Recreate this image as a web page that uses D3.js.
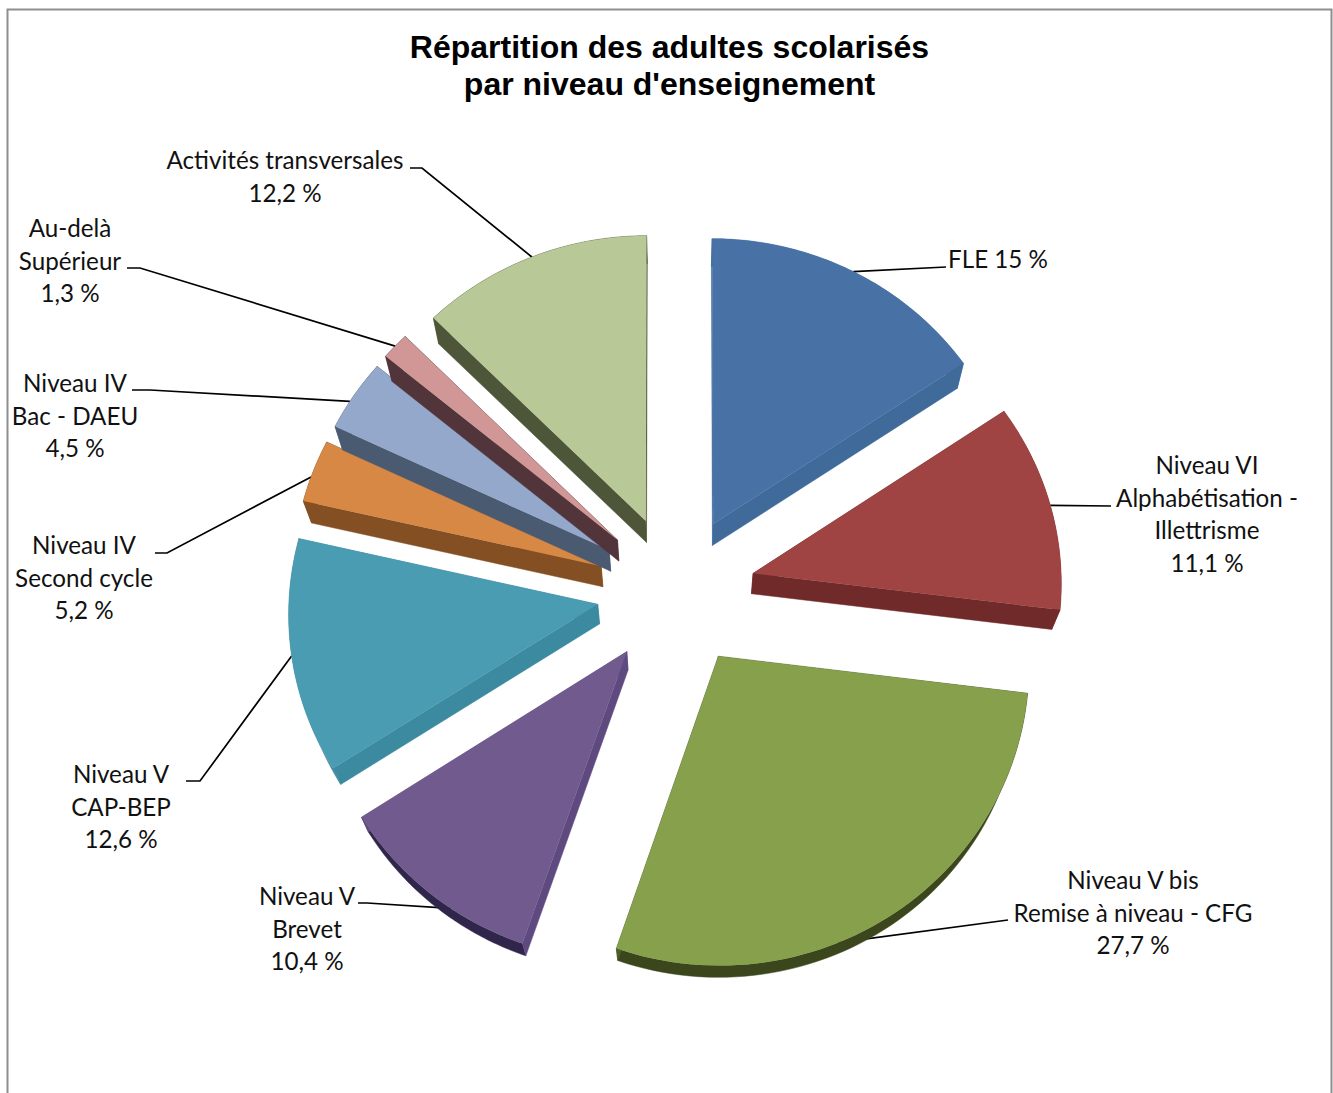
<!DOCTYPE html>
<html lang="fr">
<head>
<meta charset="utf-8">
<title>Répartition des adultes scolarisés</title>
<script src="https://cdn.jsdelivr.net/npm/d3@7"></script>
<style>
  html, body { margin: 0; padding: 0; background: #fff; }
  svg { display: block; }
  .label { font-family: Lato, "Open Sans", sans-serif; font-size: 24.2px; fill: #111; text-anchor: middle; }
  .title { font-family: "Liberation Sans", Arial, sans-serif; font-weight: bold; font-size: 32px; fill: #000; text-anchor: middle; }
</style>
</head>
<body>
<svg id="chart" width="1333" height="1093"></svg>
<script>
// Chart content
const titleLines = ["Répartition des adultes scolarisés", "par niveau d'enseignement"];
const categories = [
  ["FLE"],
  ["Niveau VI", "Alphabétisation -", "Illettrisme"],
  ["Niveau V bis", "Remise à niveau - CFG"],
  ["Niveau V", "Brevet"],
  ["Niveau V", "CAP-BEP"],
  ["Niveau IV", "Second cycle"],
  ["Niveau IV", "Bac - DAEU"],
  ["Au-delà", "Supérieur"],
  ["Activités transversales"]
];
const shares = [15, 11.1, 27.7, 10.4, 12.6, 5.2, 4.5, 1.3, 12.2];

// Slice colours
const topColors    = ["#4872a6", "#a04343", "#86a04c", "#715b8e", "#4a9cb3", "#d78845", "#94a8cc", "#d09796", "#b8c997"];
const radialColors = ["#3f6a9a", "#702a2a", "#4d5f2a", "#5f4a80", "#3c8a9f", "#844f22", "#4a5a70", "#52353a", "#4e5639"];
const rimColors    = ["#3f6a9a", "#702a2a", "#3b461d", "#30254a", "#3c8a9f", "#844f22", "#4a5a70", "#52353a", "#4e5639"];

// Label placement: centre x, first baseline, the leader's start and elbow,
// and where along the slice's rim the leader lands
const labelLayout = [
  { x: 998,  y: 268, inline: true, from: [946, 267], elbow: [946, 267], rimAt: 0.5 },
  { x: 1207, y: 474, from: [1111, 506], elbow: [1111, 506], rimAt: 0.5 },
  { x: 1133, y: 889, from: [1008, 920], elbow: [1008, 920], rimAt: 0.6 },
  { x: 307,  y: 905, from: [358, 903],  elbow: [367, 903],  rimAt: 0.38 },
  { x: 121,  y: 783, from: [186, 781],  elbow: [200, 781],  rimAt: 0.5 },
  { x: 84,   y: 554, from: [155, 553],  elbow: [167, 553],  rimAt: 0.4 },
  { x: 75,   y: 392, from: [132, 390],  elbow: [150, 390],  rimAt: 0.4 },
  { x: 70,   y: 237, from: [127, 268],  elbow: [140, 268],  rimAt: 0.5 },
  { x: 285,  y: 169, from: [410, 168],  elbow: [422, 168],  rimAt: 0.5 }
];

// Pie geometry and camera
const cx = 676, cy = 591, radius = 311, explode = 80;
const tilt = 0.955, foreshorten = 0.00009, widthScale = 0.992;
const vanish = [680, 1500], depth = 0.022;
const lineStep = 32.6;

const deg = Math.PI / 180;
// Off-axis viewing drifts the apparent angle of the slices a few degrees
const skew = d3.scaleLinear()
  .domain([0, 54, 94, 194, 231, 276, 295, 311, 316, 360])
  .range([0, 2.2, 3.1, 5.2, 6, 6.5, 0, -2, -1.2, 0]);
const seen = a => a + skew(a / deg) * deg;

const pie = d3.pie().sort(null).value(d => d).startAngle(0).endAngle(2 * Math.PI);
const arcs = pie(shares);

function project(u, v) {
  const d = 1 + foreshorten * v;
  return [cx + widthScale * u / d, cy - tilt * v / d];
}
function drop(p) {
  return [p[0] + depth * (vanish[0] - p[0]), p[1] + depth * (vanish[1] - p[1])];
}
function onDisc(arc, angle, r) {
  const mid = seen((arc.startAngle + arc.endAngle) / 2);
  const shown = seen(angle);
  return project(
    explode * Math.sin(mid) + r * Math.sin(shown),
    explode * Math.cos(mid) + r * Math.cos(shown)
  );
}

const svg = d3.select("#chart");
const line = d3.line();

// Chart frame, open at the bottom
svg.append("path")
  .attr("d", line([[7.5, 1093], [7.5, 9.5], [1331.5, 9.5], [1331.5, 1093]]))
  .attr("fill", "none").attr("stroke", "#8e8e8e").attr("stroke-width", 2);

// Leader lines run from each label to its slice's rim
const leaderLayer = svg.append("g");
const sliceLayer = svg.append("g");

arcs.forEach((arc, i) => {
  const sweep = arc.endAngle - arc.startAngle;
  const angles = d3.range(0, 61).map(s => arc.startAngle + sweep * s / 60);
  const rim = angles.map(a => onDisc(arc, a, radius));
  const apex = onDisc(arc, arc.startAngle, 0);
  const g = sliceLayer.append("g");

  // Extruded faces first, the top face covers whatever is hidden
  g.append("path")
    .attr("d", line(rim.concat(rim.map(drop).reverse())) + "Z")
    .attr("fill", rimColors[i]).attr("stroke", rimColors[i]).attr("stroke-width", 0.5);
  [rim[0], rim[rim.length - 1]].forEach(end => {
    g.append("path")
      .attr("d", line([apex, end, drop(end), drop(apex)]) + "Z")
      .attr("fill", radialColors[i]).attr("stroke", radialColors[i]).attr("stroke-width", 0.5);
  });
  g.append("path")
    .attr("d", line([apex].concat(rim)) + "Z")
    .attr("fill", topColors[i]);

  const place = labelLayout[i];
  const landing = onDisc(arc, arc.startAngle + sweep * place.rimAt, radius);
  leaderLayer.append("path")
    .attr("d", line([place.from, place.elbow, landing]))
    .attr("fill", "none").attr("stroke", "#000").attr("stroke-width", 1.7);
});

// Data labels
const pct = v => String(v).replace(".", ",") + " %";
const labelLayer = svg.append("g");
categories.forEach((lines, i) => {
  const place = labelLayout[i];
  const rows = place.inline
    ? [lines[0] + " " + pct(shares[i])]
    : lines.concat(pct(shares[i]));
  rows.forEach((row, j) => {
    labelLayer.append("text")
      .attr("class", "label")
      .attr("x", place.x)
      .attr("y", place.y + j * lineStep)
      .text(row);
  });
});

// Title
titleLines.forEach((t, j) => {
  svg.append("text").attr("class", "title")
    .attr("x", 669.5).attr("y", 58 + j * 37).text(t);
});
</script>
</body>
</html>
